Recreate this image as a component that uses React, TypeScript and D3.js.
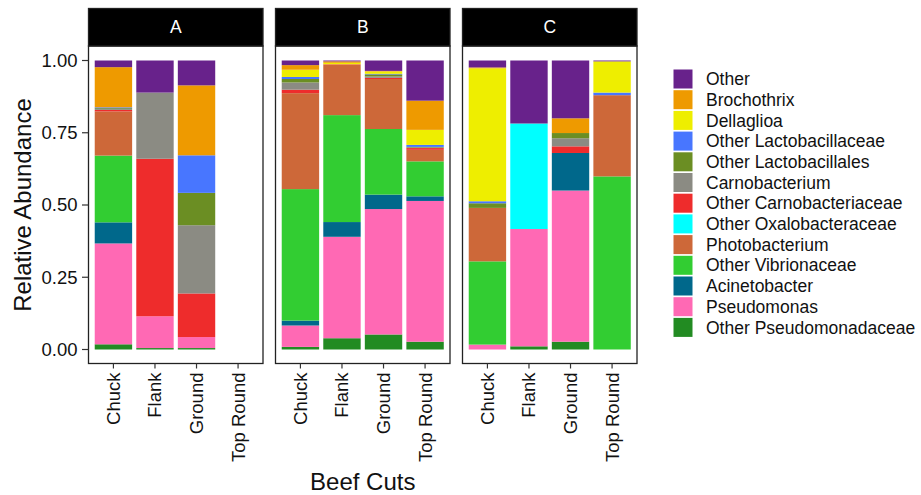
import React, { useEffect, useRef } from 'react';
import * as d3 from 'd3';

// facets and x categories
const panels = ['A', 'B', 'C'];
const cuts = ['Chuck', 'Flank', 'Ground', 'Top Round'];

// stacking order, bottom -> top
const taxa = [
  'Other Pseudomonadaceae',
  'Pseudomonas',
  'Acinetobacter',
  'Other Vibrionaceae',
  'Photobacterium',
  'Other Oxalobacteraceae',
  'Other Carnobacteriaceae',
  'Carnobacterium',
  'Other Lactobacillales',
  'Other Lactobacillaceae',
  'Dellaglioa',
  'Brochothrix',
  'Other',
];

const taxaColors = [
  '#228B22', '#FF69B4', '#00688B', '#32CD32', '#CD6839', '#00FFFF',
  '#EE2C2C', '#8B8B83', '#6B8E23', '#4876FF', '#EEEE00', '#EE9A00', '#68228B',
];

// values per bar: A Chuck, A Flank, A Ground, A Top Round, B ..., C ...
const otherPseudomonadaceae = [0.018, 0.005, 0.005, 0, 0.009, 0.039, 0.052, 0.027, 0, 0.011, 0.027, 0];
const pseudomonas = [0.349, 0.11, 0.038, 0, 0.074, 0.351, 0.434, 0.487, 0.017, 0.406, 0.523, 0];
const acinetobacter = [0.073, 0, 0, 0, 0.017, 0.051, 0.05, 0.016, 0, 0, 0.13, 0];
const otherVibrionaceae = [0.231, 0, 0, 0, 0.455, 0.37, 0.227, 0.121, 0.288, 0, 0, 0.599];
const photobacterium = [0.153, 0, 0, 0, 0.332, 0.174, 0.173, 0.04, 0.185, 0, 0, 0.281];
const otherOxalobacteraceae = [0, 0, 0, 0, 0, 0, 0, 0, 0, 0.365, 0, 0];
const otherCarnobacteriaceae = [0.005, 0.545, 0.151, 0, 0.012, 0.002, 0.004, 0.006, 0, 0, 0.023, 0];
const carnobacterium = [0.003, 0.229, 0.236, 0, 0.025, 0, 0.005, 0.002, 0, 0, 0.028, 0];
const otherLactobacillales = [0.003, 0, 0.112, 0, 0.012, 0, 0.007, 0.002, 0.016, 0, 0.018, 0];
const otherLactobacillaceae = [0.003, 0, 0.13, 0, 0.007, 0, 0.002, 0.007, 0.007, 0, 0, 0.009];
const dellaglioa = [0, 0, 0, 0, 0.025, 0.005, 0.008, 0.052, 0.46, 0, 0, 0.108];
const brochothrix = [0.139, 0, 0.242, 0, 0.016, 0.005, 0.002, 0.101, 0.003, 0, 0.051, 0];
const other = [0.023, 0.111, 0.086, 0, 0.016, 0.003, 0.036, 0.139, 0.024, 0.218, 0.2, 0.003];

const seriesValues = [
  otherPseudomonadaceae, pseudomonas, acinetobacter, otherVibrionaceae, photobacterium,
  otherOxalobacteraceae, otherCarnobacteriaceae, carnobacterium, otherLactobacillales,
  otherLactobacillaceae, dellaglioa, brochothrix, other,
];

const yTicks = [0, 0.25, 0.5, 0.75, 1];

export default function App() {
  const ref = useRef<SVGSVGElement>(null);

  useEffect(() => {
    const svg = d3.select(ref.current);
    svg.selectAll('*').remove();

    const font = 'Liberation Sans, Arial, sans-serif';
    const panelW = 174.5;
    const panelGap = 12.5;
    const panelLeft = 88.5;
    const stripTop = 8.5;
    const panelTop = 46;
    const panelBottom = 363.5;

    const y = d3.scaleLinear().domain([0, 1]).range([349.5, 60.5]);
    const color = d3.scaleOrdinal<string, string>().domain(taxa).range(taxaColors);

    panels.forEach((p, pi) => {
      const x0 = panelLeft + pi * (panelW + panelGap);
      const x = d3
        .scaleBand()
        .domain(cuts)
        .range([x0, x0 + panelW])
        .paddingInner(0.1)
        .paddingOuter(0.15);

      // rows for this facet
      const rows = cuts.map((c, ci) => {
        const row: any = { cut: c };
        taxa.forEach((t, ti) => {
          row[t] = seriesValues[ti][pi * 4 + ci];
        });
        return row;
      });
      const stacked = d3.stack().keys(taxa)(rows);

      const g = svg.append('g');
      g.append('rect')
        .attr('x', x0)
        .attr('y', panelTop)
        .attr('width', panelW)
        .attr('height', panelBottom - panelTop)
        .attr('fill', 'white');

      stacked.forEach((layer) => {
        g.selectAll(null)
          .data(layer.filter((d) => d[1] - d[0] > 0))
          .enter()
          .append('rect')
          .attr('x', (d: any) => x(d.data.cut)!)
          .attr('width', x.bandwidth())
          .attr('y', (d) => y(d[1]))
          .attr('height', (d) => y(d[0]) - y(d[1]))
          .attr('fill', color(layer.key));
      });

      // panel border
      g.append('rect')
        .attr('x', x0)
        .attr('y', panelTop)
        .attr('width', panelW)
        .attr('height', panelBottom - panelTop)
        .attr('fill', 'none')
        .attr('stroke', '#222')
        .attr('stroke-width', 1.3);

      // strip
      g.append('rect')
        .attr('x', x0)
        .attr('y', stripTop)
        .attr('width', panelW)
        .attr('height', panelTop - stripTop)
        .attr('fill', 'black')
        .attr('stroke', '#222')
        .attr('stroke-width', 1.3);
      g.append('text')
        .attr('x', x0 + panelW / 2)
        .attr('y', (stripTop + panelTop) / 2)
        .attr('dy', '0.35em')
        .attr('text-anchor', 'middle')
        .attr('fill', 'white')
        .attr('font-family', font)
        .attr('font-size', 17.5)
        .text(p);

      // x axis ticks and labels
      cuts.forEach((c) => {
        const cx = x(c)! + x.bandwidth() / 2;
        g.append('line')
          .attr('x1', cx)
          .attr('x2', cx)
          .attr('y1', panelBottom)
          .attr('y2', panelBottom + 5)
          .attr('stroke', '#333')
          .attr('stroke-width', 1.2);
        g.append('text')
          .attr('transform', `translate(${cx},${panelBottom + 9}) rotate(-90)`)
          .attr('text-anchor', 'end')
          .attr('dy', '0.35em')
          .attr('font-family', font)
          .attr('font-size', 18.5)
          .attr('fill', '#111')
          .text(c);
      });
    });

    // y axis
    yTicks.forEach((t) => {
      svg.append('line')
        .attr('x1', panelLeft - 6.5)
        .attr('x2', panelLeft)
        .attr('y1', y(t))
        .attr('y2', y(t))
        .attr('stroke', '#333')
        .attr('stroke-width', 1.2);
      svg.append('text')
        .attr('x', panelLeft - 11)
        .attr('y', y(t))
        .attr('dy', '0.35em')
        .attr('text-anchor', 'end')
        .attr('font-family', font)
        .attr('font-size', 18.5)
        .attr('fill', '#111')
        .text(d3.format('.2f')(t));
    });

    svg.append('text')
      .attr('transform', `translate(31,${(y(0) + y(1)) / 2}) rotate(-90)`)
      .attr('text-anchor', 'middle')
      .attr('font-family', font)
      .attr('font-size', 24)
      .attr('fill', '#111')
      .text('Relative Abundance');

    svg.append('text')
      .attr('x', panelLeft + (3 * panelW + 2 * panelGap) / 2)
      .attr('y', 490)
      .attr('text-anchor', 'middle')
      .attr('font-family', font)
      .attr('font-size', 24)
      .attr('fill', '#111')
      .text('Beef Cuts');

    // legend, top -> bottom is reverse stack order
    const legendItems = taxa.slice().reverse();
    const lg = svg.append('g').attr('transform', 'translate(673.5,69.5)');
    legendItems.forEach((t, i) => {
      lg.append('rect')
        .attr('x', 0)
        .attr('y', i * 20.7)
        .attr('width', 19)
        .attr('height', 19)
        .attr('fill', color(t));
      lg.append('text')
        .attr('x', 32.5)
        .attr('y', i * 20.7 + 9.5)
        .attr('dy', '0.35em')
        .attr('font-family', font)
        .attr('font-size', 17.5)
        .attr('fill', '#111')
        .text(t);
    });
  }, []);

  return (
    <svg
      ref={ref}
      width={921}
      height={495}
      style={{ position: 'absolute', left: 0, top: 0, background: 'white' }}
    />
  );
}
